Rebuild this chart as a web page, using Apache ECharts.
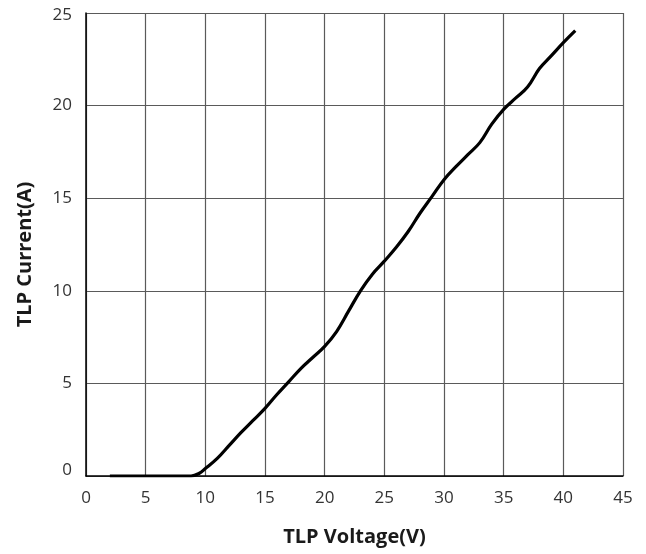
<!DOCTYPE html>
<html>
<head>
<meta charset="utf-8">
<script src="https://cdn.jsdelivr.net/npm/echarts@6/dist/echarts.min.js"></script>
<style>html,body{margin:0;padding:0;background:#fff;}#c{width:646px;height:554px;}</style>
</head>
<body>
<div id="c"></div>
<script>
var voltage = [2, 4, 6, 8, 8.8, 9.5, 10, 11, 12, 13, 14, 15, 16, 17, 18, 19, 20, 21, 22, 23, 24, 25, 26, 27, 28, 29, 30, 31, 32, 33, 34, 35, 36, 37, 38, 39, 40, 41];
var current = [0, 0, 0, 0, 0, 0.15, 0.4, 0.95, 1.65, 2.35, 3.0, 3.65, 4.4, 5.1, 5.8, 6.4, 7.0, 7.8, 8.9, 10.0, 10.9, 11.6, 12.35, 13.2, 14.2, 15.1, 16.0, 16.7, 17.35, 18.0, 19.0, 19.8, 20.4, 21.0, 22.0, 22.7, 23.4, 24.05];
var xTicks = [0, 45, 5];
var yTicks = [0, 25, 5];

var chart = echarts.init(document.getElementById('c'));
var data = voltage.map(function (v, i) { return [v, current[i]]; });
var labelFont = { fontFamily: 'Open Sans', fontSize: 17, color: '#333' };
chart.setOption({
  animation: false,
  grid: { left: 86, right: 23, top: 13, bottom: 78 },
  xAxis: {
    type: 'value', min: xTicks[0], max: xTicks[1], interval: xTicks[2],
    name: 'TLP Voltage(V)', nameLocation: 'middle', nameGap: 51,
    nameTextStyle: { fontFamily: 'Open Sans', fontWeight: 'bold', fontSize: 20, color: '#1a1a1a' },
    axisLine: { lineStyle: { color: '#000', width: 1.5 } },
    axisTick: { show: false },
    axisLabel: { fontFamily: 'Open Sans', fontSize: 17, color: '#333', margin: 14 },
    splitLine: { show: true, lineStyle: { color: '#5a5a5a', width: 1.2 } }
  },
  yAxis: {
    type: 'value', min: yTicks[0], max: yTicks[1], interval: yTicks[2],
    name: 'TLP Current(A)', nameLocation: 'middle', nameGap: 51,
    nameTextStyle: { fontFamily: 'Open Sans', fontWeight: 'bold', fontSize: 20, color: '#1a1a1a', padding: [0, 20, 0, 0] },
    axisLine: { show: true, lineStyle: { color: '#000', width: 1.5 } },
    axisTick: { show: false },
    axisLabel: {
      fontFamily: 'Open Sans', fontSize: 17, color: '#333', margin: 14,
      formatter: function (v) {
        if (v === yTicks[0]) return '{lo|' + v + '}';
        if (v === yTicks[1]) return '{hi|' + v + '}';
        return '' + v;
      },
      rich: {
        lo: Object.assign({ padding: [0, 0, 12, 0] }, labelFont),
        hi: Object.assign({ padding: [4, 0, 0, 0] }, labelFont)
      }
    },
    splitLine: { show: true, lineStyle: { color: '#5a5a5a', width: 1.2 } }
  },
  series: [{
    type: 'line', data: data, smooth: 0.4, showSymbol: false,
    lineStyle: { color: '#000', width: 3.2 }
  }]
});
</script>
</body>
</html>
